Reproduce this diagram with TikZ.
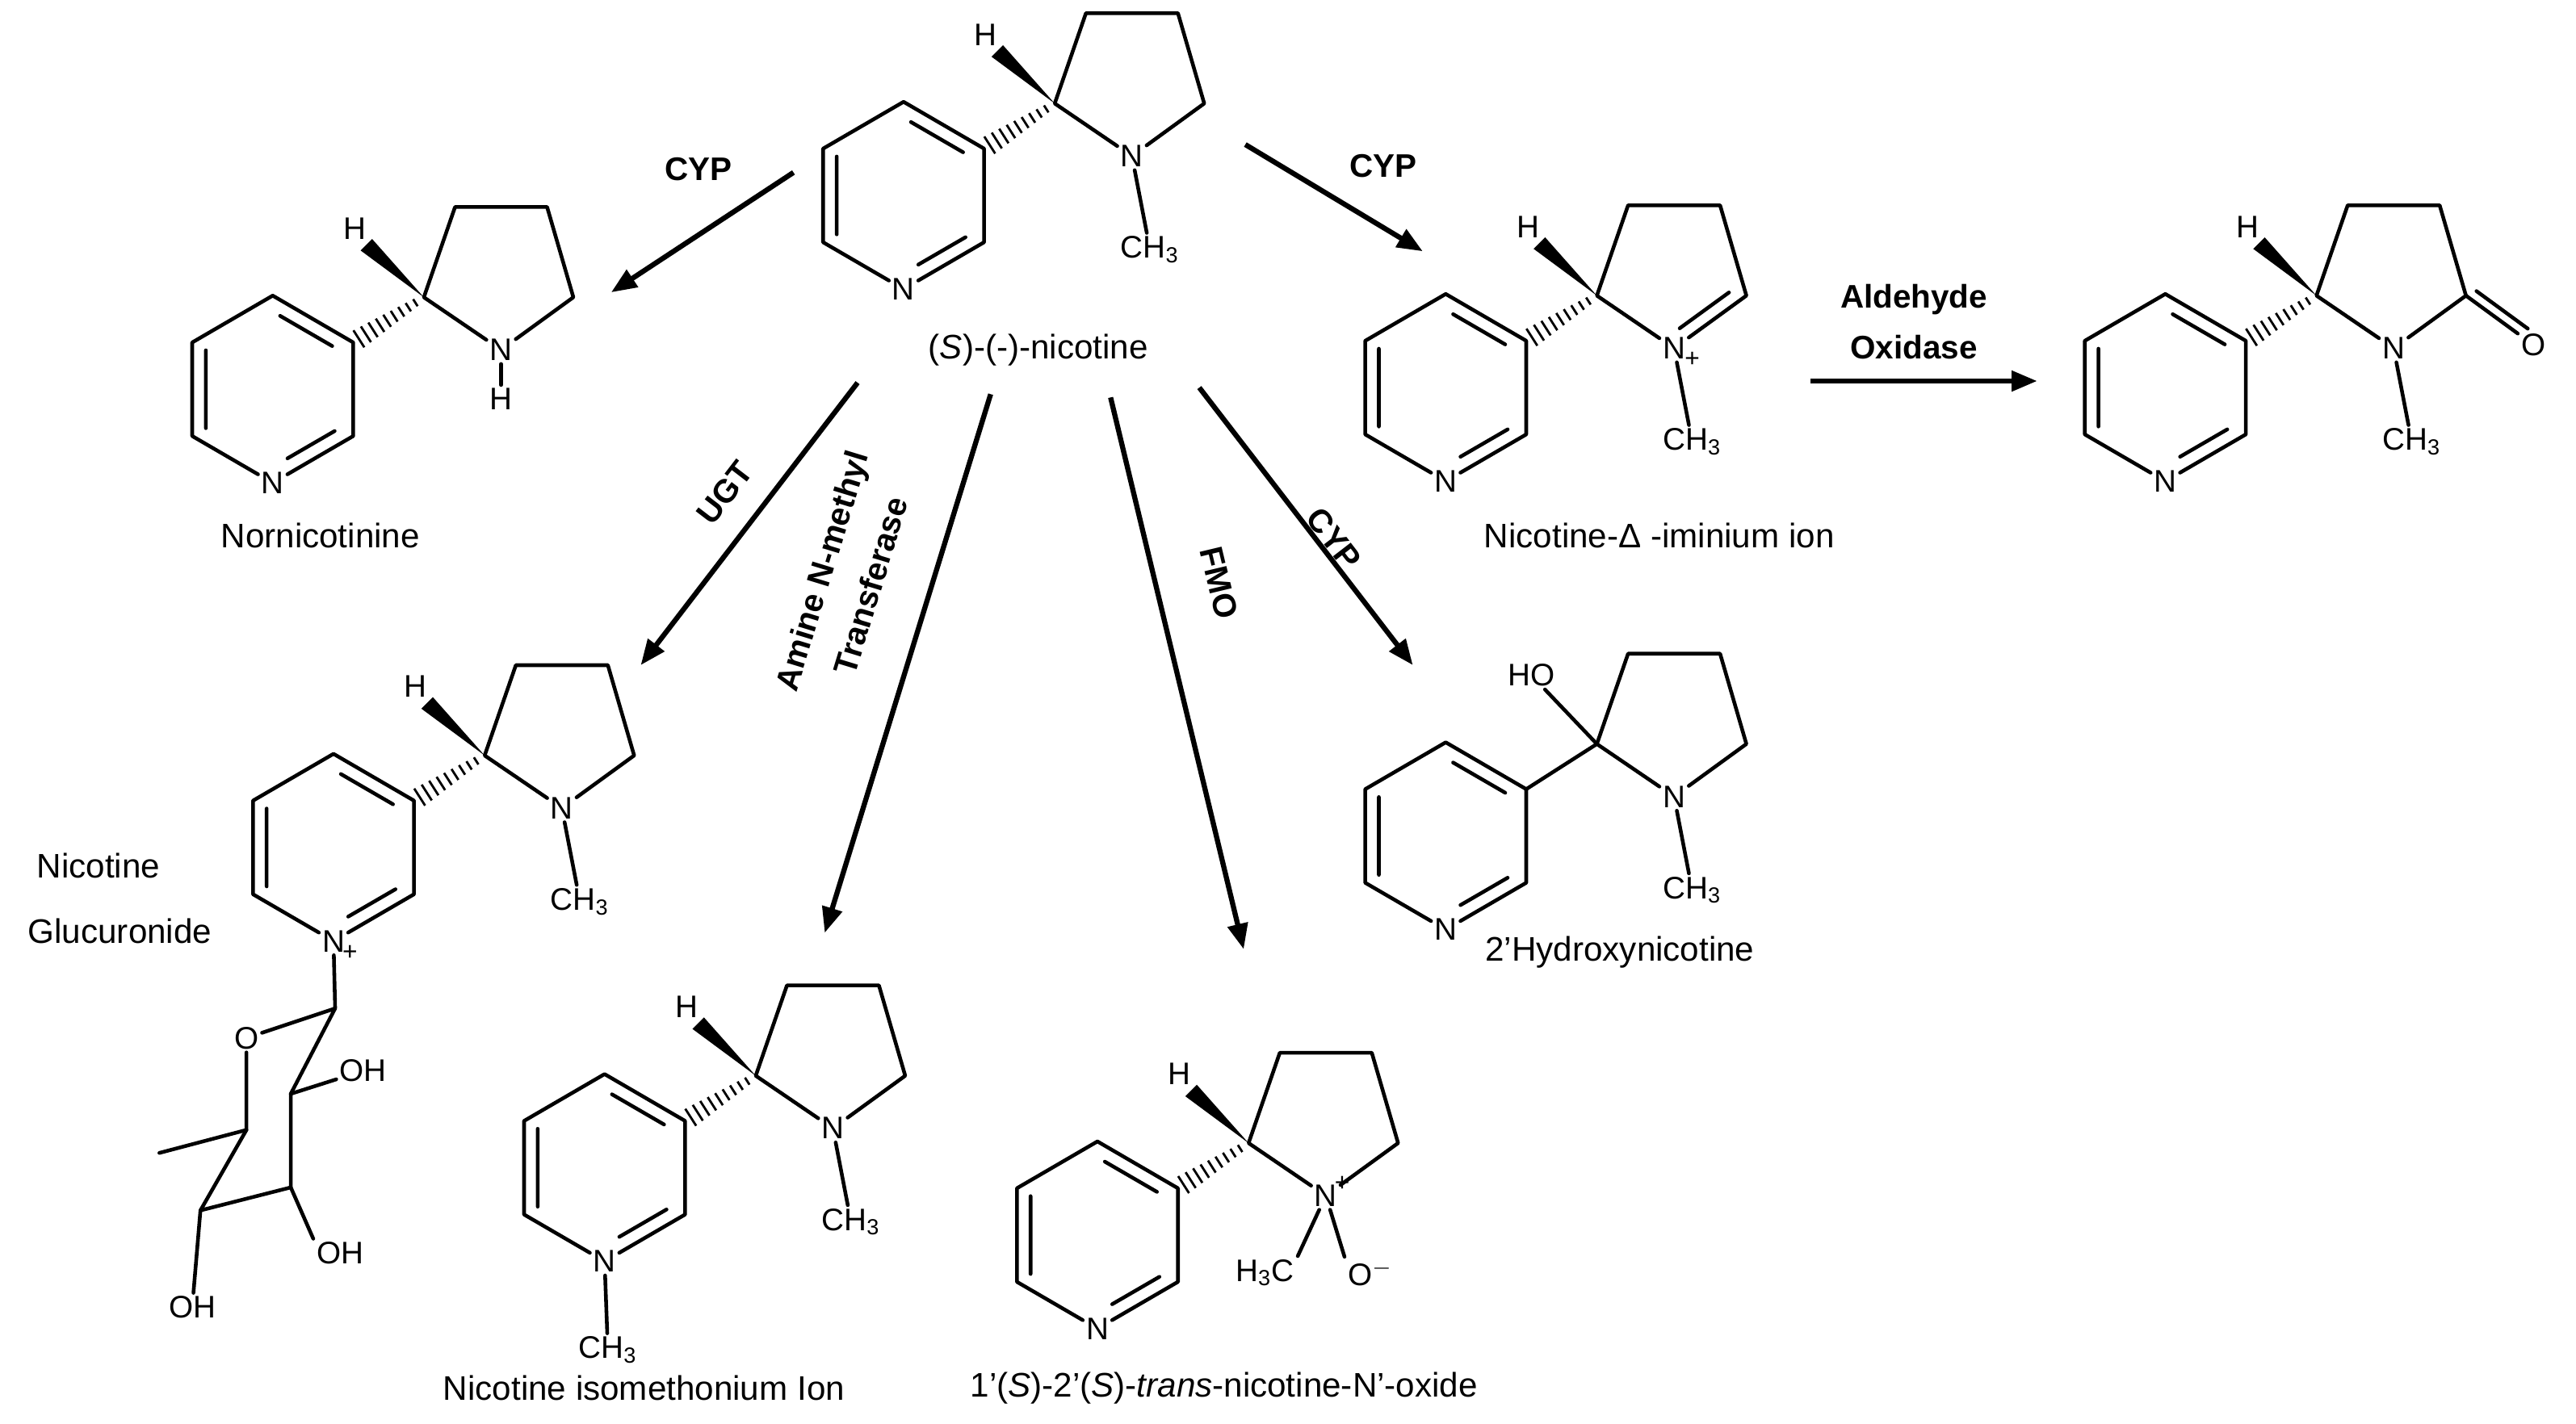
\documentclass[tikz,border=0pt]{standalone}
\usepackage{fontspec}
\setmainfont{Liberation Sans}
\usepackage{tikz}
\usetikzlibrary{positioning,calc,arrows.meta}

\tikzset{
  bond/.style={line width=1.3pt,line cap=round,line join=round},
  hash/.style={line width=0.8pt},
  react/.style={line width=1.8pt,-{Triangle[length=9pt,width=7pt]}},
  atom/.style={inner sep=1pt,font=\fontsize{11}{12}\selectfont},
  plus/.style={inner sep=0pt,font=\fontsize{9}{9}\selectfont},
  molname/.style={font=\fontsize{12}{13}\selectfont},
  enzyme/.style={font=\fontsize{11.5}{18}\selectfont\bfseries,align=center}
}

% pyridine ring + pyrrolidine ring (local coordinates, centre of pyridine at origin)
\newcommand\nicskel[3]{
  \coordinate (#1t) at (0,-57); \coordinate (#1c3) at (49,-28.5);
  \coordinate (#1lr) at (49,28.5); \coordinate (#1ll) at (-49,28.5);
  \coordinate (#1ul) at (-49,-28.5);
  \node[atom] (#1N) at (0,57) {#2};
  \draw[bond] (#1N) -- (#1ll) -- (#1ul) -- (#1t) -- (#1c3) -- (#1lr) -- (#1N);
  \draw[bond,shorten <=3pt,shorten >=3pt] (-40.7,23.7) -- (-40.7,-23.7) (0,-47.3) -- (40.7,-23.7);
  \draw[bond,shorten <=2pt,shorten >=6pt] (40.7,23.7) -- (0,47.3);
  \coordinate (#1a) at (92,-56); \coordinate (#1b) at (111,-111);
  \coordinate (#1c) at (167,-111); \coordinate (#1d) at (183,-56);
  \node[atom] (#1M) at (139,-24) {#3};
  \draw[bond] (#1M) -- (#1a) -- (#1b) -- (#1c) -- (#1d) -- (#1M);
}
% hashed bond to the pyridine, wedge to H
\newcommand\stereoH[1]{
  \foreach \s in {0.08,0.18,...,0.9} {
    \pgfmathsetmacro\h{6.5-4.5*\s}
    \draw[hash] ({49+43*\s-0.539*\h},{-28.5-27.5*\s-0.843*\h}) -- ({49+43*\s+0.539*\h},{-28.5-27.5*\s+0.843*\h});
  }
  \fill (92,-56) -- (60.5,-91.5) -- (53.5,-84.5) -- cycle;
  \node[atom] (#1H) at (50,-98) {H};
}

\begin{document}
\begin{tikzpicture}[x=0.02034cm,y=-0.02034cm]
\useasboundingbox (0,0) rectangle (1568,867);

% (S)-(-)-nicotine
\begin{scope}[shift={(550,119)}]
  \nicskel{nic}{N}{N}
  \stereoH{nic}
  \node[atom] (nicMe) at (150,33) {CH\textsubscript{3}};
  \draw[bond] (nicM) -- (nicMe);
\end{scope}
\node[molname] (nicName) at (632,213) {(\textit{S})-(-)-nicotine};

% nornicotinine
\begin{scope}[shift={(166,237)}]
  \nicskel{nor}{N}{N}
  \stereoH{nor}
  \node[atom] (norHN) at (139,6) {H};
  \draw[bond] (norM) -- (norHN);
\end{scope}
\node[molname] (norName) at (195,326) {Nornicotinine};

% iminium ion
\begin{scope}[shift={(880,236)}]
  \nicskel{imi}{N}{N}
  \stereoH{imi}
  \node[plus] at ($(imiM)+(11,7)$) {+};
  \draw[bond,shorten <=4pt,shorten >=6pt] ($(imid)+(-5,-6)$) -- ($(imiM)+(-5,-6)$);
  \node[atom] (imiMe) at (150,33) {CH\textsubscript{3}};
  \draw[bond] (imiM) -- (imiMe);
\end{scope}
\node[molname] (imiName) at (1010,326) {Nicotine-Δ -iminium ion};

% cotinine
\begin{scope}[shift={(1318,236)}]
  \nicskel{cot}{N}{N}
  \stereoH{cot}
  \node[atom] (cotO) at (224,-26) {O};
  \coordinate (cotO2) at (220,-33);
  \draw[bond] (cotd) -- (cotO);
  \draw[bond,shorten <=2pt,shorten >=5pt] ($(cotd)+(3.6,-4.8)$) -- ($(cotO.center)+(3.6,-4.8)$);
  \node[atom] (cotMe) at (150,33) {CH\textsubscript{3}};
  \draw[bond] (cotM) -- (cotMe);
\end{scope}

% nicotine glucuronide
\begin{scope}[shift={(203,516)}]
  \nicskel{glu}{N}{N}
  \stereoH{glu}
  \node[plus] at ($(gluN)+(10,7)$) {+};
  \node[atom] (gluMe) at (150,33) {CH\textsubscript{3}};
  \draw[bond] (gluM) -- (gluMe);
\end{scope}
\coordinate (s1) at (204,614);
\node[atom] (sO) at (150,632) {O};
\coordinate (s5) at (150,688);
\coordinate (s4) at (122,737);
\coordinate (s3) at (177,723);
\coordinate (s2) at (177,666);
\coordinate (sMe) at (97,702);
\node[atom] (sOH2) at (221,652) {OH};
\node[atom] (sOH3) at (207,763) {OH};
\node[atom] (sOH4) at (117,796) {OH};
\draw[bond] (gluN) -- (s1) -- (sO) -- (s5) -- (s4) -- (s3) -- (s2) -- (s1);
\draw[bond] (s2) -- (sOH2) (s3) -- (sOH3.north west) (s4) -- (sOH4) (s5) -- (sMe);
\node[molname] (gluName1) at (60,527) {Nicotine};
\node[molname] (gluName2) at (73,567) {Glucuronide};

% nicotine isomethonium ion
\begin{scope}[shift={(368,711)}]
  \nicskel{iso}{N}{N}
  \stereoH{iso}
  \node[atom] (isoMe) at (150,33) {CH\textsubscript{3}};
  \draw[bond] (isoM) -- (isoMe);
  \node[atom] (isoNMe) at (2,111) {CH\textsubscript{3}};
  \draw[bond] (isoN) -- (isoNMe);
\end{scope}
\node[molname] (isoName) at (392,845) {Nicotine isomethonium Ion};

% N'-oxide
\begin{scope}[shift={(668,752)}]
  \nicskel{nox}{N}{N}
  \stereoH{nox}
  \node[plus] at ($(noxM)+(10,-7)$) {+};
  \node[atom] (noxMe) at (102,23) {H\textsubscript{3}C};
  \node[atom] (noxO) at (166,23) {O$^{-}$};
  \draw[bond] (noxM) -- (noxMe.north east) (noxM) -- (noxO.north west);
\end{scope}
\node[molname] (noxName) at (745,845) {1’(\textit{S})-2’(\textit{S})-\textit{trans}-nicotine-N’-oxide};

% 2'-hydroxynicotine
\begin{scope}[shift={(880,509)}]
  \nicskel{hyd}{N}{N}
  \draw[bond] (hydc3) -- (hyda);
  \node[atom] (hydOH) at (52,-98) {HO};
  \draw[bond] (hyda) -- (hydOH);
  \node[atom] (hydMe) at (150,33) {CH\textsubscript{3}};
  \draw[bond] (hydM) -- (hydMe);
\end{scope}
\node[molname] (hydName) at (986,580) {2’Hydroxynicotine};

% reactions
\coordinate (r1s) at (483,105); \coordinate (r1e) at (372,178);
\coordinate (r2s) at (758,88);  \coordinate (r2e) at (866,153);
\coordinate (r3s) at (1102,232); \coordinate (r3e) at (1240,232);
\coordinate (r4s) at (522,233); \coordinate (r4e) at (390,405);
\coordinate (r5s) at (603,240); \coordinate (r5e) at (502,568);
\coordinate (r6s) at (676,242); \coordinate (r6e) at (757,578);
\coordinate (r7s) at (730,236); \coordinate (r7e) at (860,405);
\foreach \r in {1,...,7} \draw[react] (r\r s) -- (r\r e);

\node[enzyme] (e1) at (425,103) {CYP};
\node[enzyme] (e2) at (842,101) {CYP};
\node[enzyme] (e3) at (1165,196) {Aldehyde\\Oxidase};
\node[enzyme,rotate=52.5] (e4) at (441,300) {UGT};
\node[enzyme,rotate=73] (e5) at (515,352) {Amine N-methyl\\Transferase};
\node[enzyme,rotate=-76.5] (e6) at (742,355) {FMO};
\node[enzyme,rotate=-52.4] (e7) at (812,328) {CYP};
\end{tikzpicture}
\end{document}
